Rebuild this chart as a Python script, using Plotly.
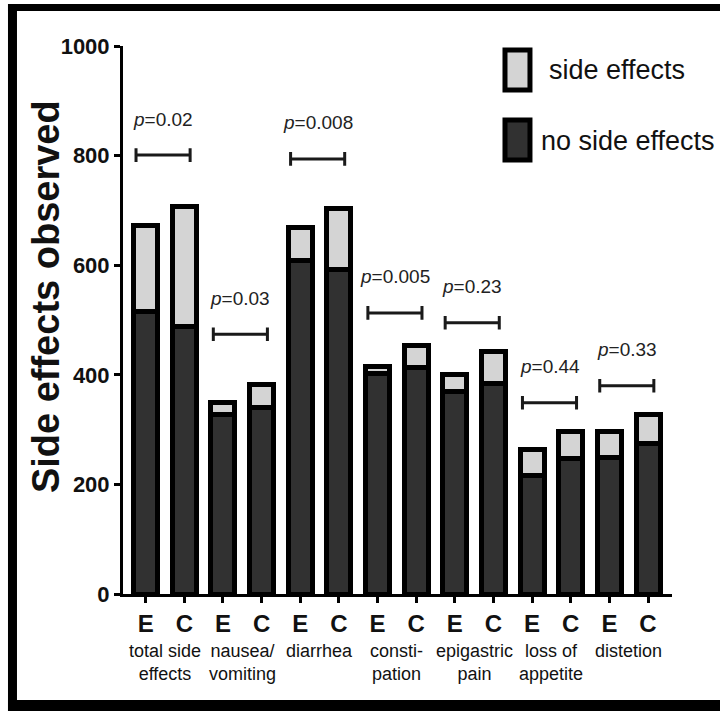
import plotly.graph_objects as go

# ---- data -------------------------------------------------------------
categories = ["total side<br>effects", "nausea/<br>vomiting", "diarrhea",
              "consti-<br>pation", "epigastric<br>pain", "loss of<br>appetite",
              "distetion"]
groups = ["E", "C"]

# totals (E, C) per category and the "no side effects" part of each bar
total_E = [673, 349, 668, 416, 401, 263, 296]
total_C = [708, 383, 704, 453, 442, 297, 328]
no_side_E = [516, 327, 609, 403, 369, 217, 250]
no_side_C = [489, 341, 593, 414, 385, 248, 274]

p_values = ["0.02", "0.03", "0.008", "0.005", "0.23", "0.44", "0.33"]
bracket_y = [801, 474, 794, 513, 495, 349, 380]

y_ticks = [0, 200, 400, 600, 800, 1000]

# ---- derived series ---------------------------------------------------
x_pos, tick_text, no_side, side = [], [], [], []
for i in range(len(categories)):
    for g, tot, ns in (("E", total_E[i], no_side_E[i]), ("C", total_C[i], no_side_C[i])):
        x_pos.append(2 * i + (0 if g == "E" else 1))
        tick_text.append(g)
        no_side.append(ns)
        side.append(tot - ns)

DARK = "#313131"
LIGHT = "#d4d4d4"
FONT = "Liberation Sans, Arial, sans-serif"
BAR_W = 0.62

fig = go.Figure()
fig.add_trace(go.Bar(x=x_pos, y=no_side, width=BAR_W, name="no side effects",
                     marker=dict(color=DARK, line=dict(color="black", width=5)),
                     showlegend=False))
fig.add_trace(go.Bar(x=x_pos, y=side, width=BAR_W, name="side effects",
                     marker=dict(color=LIGHT, line=dict(color="black", width=5)),
                     showlegend=False))

# significance brackets with end caps
cap = 12.5
for i, (p, yb) in enumerate(zip(p_values, bracket_y)):
    x0 = 2 * i - 0.25
    x1 = 2 * i + 1 + 0.15
    fig.add_trace(go.Scatter(
        x=[x0, x0, x0, x1, x1, x1],
        y=[yb - cap, yb + cap, yb, yb, yb - cap, yb + cap],
        mode="lines", line=dict(color="#1a1a1a", width=3),
        hoverinfo="skip", showlegend=False, cliponaxis=False))
    fig.add_annotation(x=(x0 + x1) / 2, y=yb, yshift=36, text="<i>p</i>=" + p,
                       showarrow=False, font=dict(family=FONT, size=19, color="#222"),
                       xanchor="center", yanchor="middle")

# category names beneath the E/C ticks
for i, name in enumerate(categories):
    fig.add_annotation(x=2 * i + 0.5, y=0, yref="y", yshift=-45, text=name,
                       showarrow=False, align="center", xanchor="center", yanchor="top",
                       font=dict(family=FONT, size=18, color="#111"))

# y-axis title
fig.add_annotation(x=-0.140, y=0.542, xref="paper", yref="paper",
                   text="<b>Side effects observed</b>", textangle=-90, showarrow=False,
                   font=dict(family=FONT, size=38, color="#111"),
                   xanchor="center", yanchor="middle")

# legend drawn as boxes with labels
fig.add_shape(type="rect", xref="paper", yref="paper", x0=0.6958, x1=0.7413,
              y0=0.9197, y1=0.9927, fillcolor=LIGHT, line=dict(color="black", width=5))
fig.add_shape(type="rect", xref="paper", yref="paper", x0=0.6958, x1=0.7413,
              y0=0.792, y1=0.865, fillcolor=DARK, line=dict(color="black", width=5))
fig.add_annotation(x=0.772, y=0.9562, xref="paper", yref="paper", text="side effects",
                   showarrow=False, xanchor="left", yanchor="middle",
                   font=dict(family=FONT, size=27, color="#111"))
fig.add_annotation(x=0.758, y=0.8266, xref="paper", yref="paper", text="no side effects",
                   showarrow=False, xanchor="left", yanchor="middle",
                   font=dict(family=FONT, size=27, color="#111"))

# black frame around the figure (left, top, bottom)
for x0, x1, y0, y1 in [(-0.2095, -0.1931, -0.2135, 1.0766),
                       (-0.2095, 1.10, 1.0639, 1.0766),
                       (-0.2095, 1.10, -0.2135, -0.1934)]:
    fig.add_shape(type="rect", xref="paper", yref="paper", x0=x0, x1=x1, y0=y0, y1=y1,
                  fillcolor="black", line=dict(width=0))

fig.update_layout(
    width=720, height=711,
    margin=dict(l=123, r=48, t=46, b=117),
    barmode="stack",
    plot_bgcolor="white", paper_bgcolor="white",
    xaxis=dict(range=[-0.587, 13.62], tickmode="array", tickvals=x_pos, ticktext=tick_text,
               showgrid=False, zeroline=False, showline=True, linecolor="black", linewidth=3,
               ticks="outside", ticklen=6, tickwidth=3, tickcolor="black",
               tickfont=dict(family=FONT, size=24, color="#111", weight="bold")),
    yaxis=dict(range=[0, 1000], tickvals=y_ticks, showgrid=False, zeroline=False,
               showline=True, linecolor="black", linewidth=3,
               ticks="outside", ticklen=6, tickwidth=3, tickcolor="black",
               tickfont=dict(family=FONT, size=22, color="#111", weight="bold")),
)

fig.write_html("out.html")
